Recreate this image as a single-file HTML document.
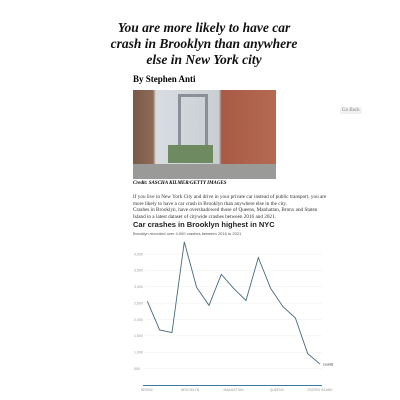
<!DOCTYPE html>
<html><head><meta charset="utf-8"><style>
body{margin:0;width:400px;height:400px;background:#fff;position:relative;overflow:hidden;font-family:"Liberation Serif",serif}
.a{position:absolute;white-space:nowrap}
</style></head><body>
<div class="a" style="left:100px;top:20px;width:208px;text-align:center;font:italic bold 13.5px/16px 'Liberation Serif',serif;color:#111">You are more likely to have car<br>crash in Brooklyn than anywhere<br>else in New York city</div>
<div class="a" style="left:133px;top:74px;font:bold 9px 'Liberation Serif',serif">By Stephen Anti</div>
<div class="a" style="left:340px;top:107px;font:5px 'Liberation Serif',serif;color:#888;background:#f0f0f0;padding:1px 2px;border-radius:2px">Go Back</div>
<div class="a" style="left:133px;top:90px;width:143px;height:89px;background:linear-gradient(90deg,#7a5a48 0,#8e6a58 14%,#d8dde2 16%,#c9ced3 60%,#a85a45 62%,#b46a52 100%)">
<div class="a" style="left:45px;top:4px;width:30px;height:60px;border:3px solid #8a9098;border-bottom:none;box-sizing:border-box"></div>
<div class="a" style="left:35px;top:55px;width:45px;height:18px;background:#6e8a60"></div>
<div class="a" style="left:0;top:74px;width:143px;height:15px;background:#9a9a98"></div>
</div>
<div class="a" style="left:133px;top:181px;font:bold italic 5px 'Liberation Serif',serif">Credit: SASCHA KILMER/GETTY IMAGES</div>
<div class="a" style="left:133px;top:194px;font:5.2px/6.5px 'Liberation Serif',serif;color:#333">If you live in New York City and drive in your private car instead of public transport, you are<br>more likely to have a car crash in Brooklyn than anywhere else in the city.<br>Crashes in Brooklyn, have overshadowed those of Queens, Manhattan, Bronx and Staten<br>Island in a latest dataset of citywide crashes between 2016 and 2021.</div>
<div class="a" style="left:133px;top:220px;font:bold 7.5px 'Liberation Sans',sans-serif;color:#222">Car crashes in Brooklyn highest in NYC</div>
<div class="a" style="left:133px;top:231px;font:4px 'Liberation Sans',sans-serif;color:#555">Brooklyn recorded over 4,000 crashes between 2016 to 2021</div>
<svg class="a" id="chart" style="left:0;top:0" width="400" height="400"></svg>
<script>
const yTicks=[500,1000,1500,2000,2500,3000,3500,4000];
const values=[2560,1680,1600,4370,2980,2430,3380,2950,2580,3890,2950,2390,2050,960,640];
const boroughs=["BRONX","BROOKLYN","MANHATTAN","QUEENS","STATEN ISLAND"];
const svg=document.getElementById('chart');const NS='http://www.w3.org/2000/svg';
const x=i=>147.3+i*(320-147.3)/(values.length-1);
const y=v=>385-v*(385-254)/4000;
function mk(t,a){const e=document.createElementNS(NS,t);for(const k in a)e.setAttribute(k,a[k]);svg.appendChild(e);return e;}
yTicks.forEach(v=>{
 const g=mk('line',{x1:145,x2:322,y1:y(v),y2:y(v),stroke:'#eee','stroke-width':0.5});
 
 
 const t=mk('text',{x:134,y:y(v)+1.3,'font-size':3.5,fill:'#999','font-family':'Liberation Sans,sans-serif'});
 t.textContent=v.toLocaleString('en-US');
 
 
});
const p=mk('polyline',{points:values.map((v,i)=>x(i)+','+y(v)).join(' '),fill:'none',stroke:'#4a6a7a','stroke-width':0.9});


const lb=mk('text',{x:323,y:y(values[values.length-1])+1.5,'font-size':3.5,fill:'#333','font-family':'Liberation Sans,sans-serif'});
lb.textContent='counts';


const nv=mk('line',{x1:143,x2:322,y1:385.5,y2:385.5,stroke:'#3a7a9a','stroke-width':1});


boroughs.forEach((b,i)=>{
 const t=mk('text',{x:147+i*(320-147)/(boroughs.length-1),y:391,'font-size':3.3,fill:'#999','text-anchor':'middle','font-family':'Liberation Sans,sans-serif'});
 t.textContent=b;
 
 
});
</script>
</body></html>
